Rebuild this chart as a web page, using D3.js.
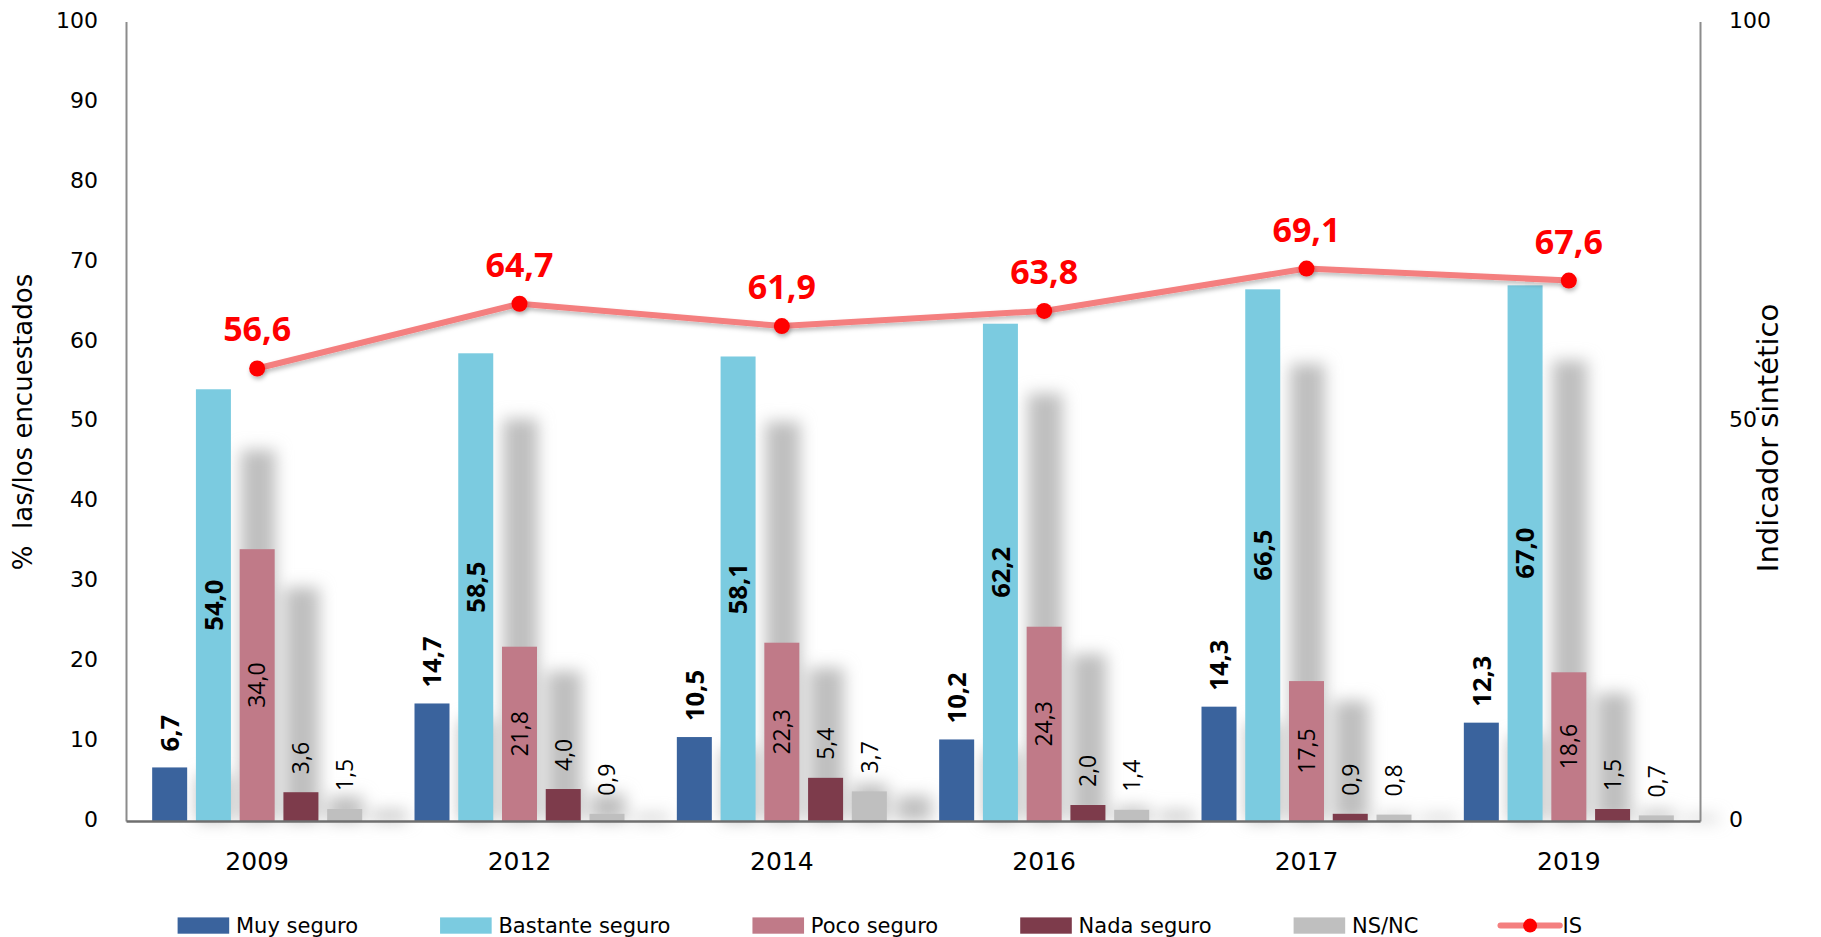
<!DOCTYPE html>
<html>
<head>
<meta charset="utf-8">
<script src="https://cdn.jsdelivr.net/npm/d3@7"></script>
<style>
  html, body { margin: 0; padding: 0; background: #ffffff; }
  svg { display: block; }
  text { font-family: "DejaVu Sans", sans-serif; }
</style>
</head>
<body>
<svg id="chart" width="1821" height="937"></svg>
<script>
// ---------------- data ----------------
const categories = ["2009", "2012", "2014", "2016", "2017", "2019"];
const seriesNames = ["Muy seguro", "Bastante seguro", "Poco seguro", "Nada seguro", "NS/NC"];
const muySeguro      = [6.7, 14.7, 10.5, 10.2, 14.3, 12.3];
const bastanteSeguro = [54.0, 58.5, 58.1, 62.2, 66.5, 67.0];
const pocoSeguro     = [34.0, 21.8, 22.3, 24.3, 17.5, 18.6];
const nadaSeguro     = [3.6, 4.0, 5.4, 2.0, 0.9, 1.5];
const nsnc           = [1.5, 0.9, 3.7, 1.4, 0.8, 0.7];
const indicadorIS    = [56.6, 64.7, 61.9, 63.8, 69.1, 67.6];
const leftTicks  = [0, 10, 20, 30, 40, 50, 60, 70, 80, 90, 100];
const rightTicks = [0, 50, 100];
const lineName = "IS";

// ---------------- styles ----------------
const seriesValues = [muySeguro, bastanteSeguro, pocoSeguro, nadaSeguro, nsnc];
const seriesColors = ["#3a639d", "#7bcbe0", "#c07a88", "#7d3b4b", "#bfbfbf"];
const labelMode    = ["out", "center", "center", "out", "out"];
const labelBold    = [true, true, false, false, false];
const labelGap     = [16, 0, 0, 18, 18];

const W = 1821, H = 937;
const plotLeft = 126, plotRight = 1700, plotTop = 21.5, plotBottom = 821;

const fmt = d3.formatLocale({decimal: ",", thousands: ".", grouping: [3], currency: ["", "€"]}).format(".1f");

const svg = d3.select("#chart");
const defs = svg.append("defs");
defs.append("filter").attr("id", "blur")
  .attr("filterUnits", "userSpaceOnUse")
  .attr("x", 0).attr("y", 0).attr("width", W).attr("height", H)
  .append("feGaussianBlur").attr("stdDeviation", 8);
const ls = defs.append("filter").attr("id", "lineShadow")
  .attr("x", "-5%").attr("y", "-50%").attr("width", "110%").attr("height", "200%");
ls.append("feDropShadow").attr("dx", 1).attr("dy", 3).attr("stdDeviation", 2)
  .attr("flood-color", "#000").attr("flood-opacity", 0.25);

// ---------------- scales ----------------
const x0 = d3.scaleBand().domain(categories).range([plotLeft, plotRight]).paddingInner(0).paddingOuter(0);
const groupW = 210;
const x1 = d3.scaleBand().domain(seriesNames).range([0, groupW]).paddingInner(0.2).paddingOuter(0);
const groupOffset = (x0.bandwidth() - groupW) / 2;
const y = d3.scaleLinear().domain([0, 100]).range([plotBottom, plotTop]);
const yR = d3.scaleLinear().domain([0, 100]).range([plotBottom, plotTop]);

const barX = (ci, si) => x0(categories[ci]) + groupOffset + x1(seriesNames[si]);

// ---------------- shadows ----------------
const shadowG = svg.append("g").attr("filter", "url(#blur)");
seriesValues.forEach((vals, si) => {
  shadowG.selectAll(null).data(vals).enter().append("rect")
    .attr("x", (d, ci) => barX(ci, si) + x1.step() + 1)
    .attr("y", d => y(d * 0.86))
    .attr("width", x1.bandwidth())
    .attr("height", d => y(0) - y(d * 0.86))
    .attr("fill", "#bfbfbf");
});

// ---------------- bars ----------------
seriesValues.forEach((vals, si) => {
  svg.append("g").selectAll("rect").data(vals).enter().append("rect")
    .attr("x", (d, ci) => barX(ci, si))
    .attr("y", d => y(d))
    .attr("width", x1.bandwidth())
    .attr("height", d => y(0) - y(d))
    .attr("fill", seriesColors[si]);
});

// ---------------- axes ----------------
const axL = svg.append("g").attr("transform", `translate(${plotLeft},0)`)
  .call(d3.axisLeft(y).tickValues(leftTicks).tickSize(0).tickPadding(28).tickSizeOuter(0));
axL.select(".domain").attr("stroke", "#8c8c8c").attr("stroke-width", 2);
axL.selectAll("text").attr("font-size", 22).attr("fill", "#000").attr("dy", "0.26em")
  .style("font-family", "'DejaVu Sans', sans-serif");

const axR = svg.append("g").attr("transform", `translate(${plotRight},0)`)
  .call(d3.axisRight(yR).tickValues(rightTicks).tickSize(0).tickPadding(29).tickSizeOuter(0));
axR.select(".domain").attr("stroke", "#8c8c8c").attr("stroke-width", 2);
axR.selectAll("text").attr("font-size", 22).attr("fill", "#000").attr("dy", "0.26em")
  .style("font-family", "'DejaVu Sans', sans-serif");

const axB = svg.append("g").attr("transform", `translate(0,${plotBottom})`)
  .call(d3.axisBottom(x0).tickSize(0).tickPadding(31).tickSizeOuter(0));
axB.select(".domain").attr("stroke", "#6f6f6f").attr("stroke-width", 2.5);
axB.selectAll("text").attr("font-size", 25).attr("fill", "#000")
  .style("font-family", "'DejaVu Sans', sans-serif");

// axis titles
svg.append("text")
  .attr("transform", `translate(23,422) rotate(-90)`)
  .attr("text-anchor", "middle").attr("dy", "0.35em")
  .attr("font-size", 26).style("white-space", "pre")
  .text("%  las/los encuestados");
svg.append("text")
  .attr("transform", `translate(1768,438) rotate(-90)`)
  .attr("text-anchor", "middle").attr("dy", "0.35em")
  .attr("font-size", 29)
  .text("Indicador sintético");

// ---------------- bar labels ----------------
seriesValues.forEach((vals, si) => {
  svg.append("g").selectAll("text").data(vals).enter().append("text")
    .attr("transform", (d, ci) => {
      const cx = barX(ci, si) + x1.bandwidth() / 2;
      const cy = labelMode[si] === "center" ? (y(d) + y(0)) / 2 : y(d) - labelGap[si];
      return `translate(${cx},${cy}) rotate(-90)`;
    })
    .attr("text-anchor", labelMode[si] === "center" ? "middle" : "start")
    .attr("dy", "0.36em")
    .style("font-family", "'Open Sans', sans-serif")
    .attr("font-weight", labelBold[si] ? 700 : 400)
    .attr("font-size", labelBold[si] ? 25.5 : 23)
    .attr("fill", "#000")
    .text(d => fmt(d));
});

// ---------------- IS line ----------------
const cxOf = (ci) => x0(categories[ci]) + x0.bandwidth() / 2;
const line = d3.line().x((d, i) => cxOf(i)).y(d => yR(d));
svg.append("path").datum(indicadorIS)
  .attr("d", line).attr("fill", "none")
  .attr("stroke", "#f47f7f").attr("stroke-width", 6).attr("stroke-linejoin", "round")
  .attr("filter", "url(#lineShadow)");
svg.append("g").attr("filter", "url(#lineShadow)").selectAll("circle").data(indicadorIS).enter().append("circle")
  .attr("cx", (d, i) => cxOf(i)).attr("cy", d => yR(d)).attr("r", 8).attr("fill", "#ff0000");
svg.append("g").selectAll("text").data(indicadorIS).enter().append("text")
  .attr("x", (d, i) => cxOf(i)).attr("y", d => yR(d) - 27)
  .attr("text-anchor", "middle")
  .style("font-family", "'Open Sans', sans-serif")
  .attr("font-weight", 700).attr("font-size", 34).attr("fill", "#ff0000")
  .text(d => fmt(d));

// ---------------- legend ----------------
const legend = svg.append("g");
const legY = 925.6;
let lx = 177.6;
seriesNames.forEach((name, si) => {
  legend.append("rect").attr("x", lx).attr("y", legY - 8.2).attr("width", 51.6).attr("height", 16.3)
    .attr("fill", seriesColors[si]);
  const t = legend.append("text").attr("x", lx + 58.4).attr("y", legY).attr("dy", "0.35em")
    .attr("font-size", 21).text(name);
  lx = lx + 58.4 + t.node().getComputedTextLength() + 82;
});
legend.append("line").attr("x1", lx).attr("x2", lx + 59.3).attr("y1", legY).attr("y2", legY)
  .attr("stroke", "#f47f7f").attr("stroke-width", 6).attr("stroke-linecap", "round");
legend.append("circle").attr("cx", lx + 29.6).attr("cy", legY).attr("r", 7).attr("fill", "#ff0000");
legend.append("text").attr("x", lx + 62).attr("y", legY).attr("dy", "0.35em")
  .attr("font-size", 21).text(lineName);
</script>
</body>
</html>
